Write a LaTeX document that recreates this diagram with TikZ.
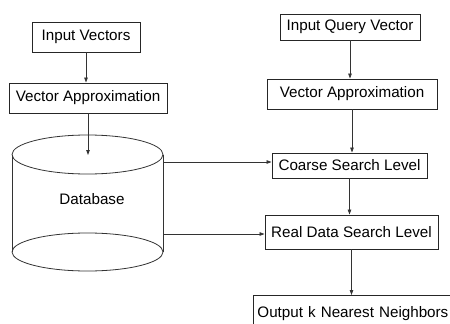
\documentclass[tikz,border=0pt]{standalone}
\usepackage{fontspec}
\setmainfont{Liberation Sans}
\usetikzlibrary{arrows.meta}
\begin{document}
\begin{tikzpicture}[x=1pt,y=-1pt,
  every node/.style={font=\fontsize{15.2}{18}\selectfont, text=black},
  boxnode/.style={draw=black!85, line width=0.9pt, inner sep=0pt, align=center},
  conn/.style={draw=black!80, line width=0.8pt, -{Triangle[length=5pt,width=3.5pt]}},
  shapeline/.style={draw=black!80, line width=0.8pt}]
\useasboundingbox (0,0) rectangle (450,324);
% left column
\node[boxnode, minimum width=108pt, minimum height=30pt] (iv) at (86,37) {Input Vectors};
\node[boxnode, minimum width=158pt, minimum height=30pt] (va1) at (88,98) {Vector Approximation};
% database cylinder
\draw[shapeline] (12,154.5) -- (12,252);
\draw[shapeline] (163,154.5) -- (163,252);
\draw[shapeline] (87.5,154.5) ellipse [x radius=75.5, y radius=19.5];
\draw[shapeline] (87.5,252) ellipse [x radius=75.5, y radius=19];
\node (db) at (92,199) {Database};
\coordinate (dbtop) at (87.5,155);
\coordinate (dbr1) at (163,162);
\coordinate (dbr2) at (163,234);
% right column
\node[boxnode, minimum width=140pt, minimum height=26pt] (iqv) at (350,27) {Input Query Vector};
\node[boxnode, minimum width=170pt, minimum height=30pt] (va2) at (352,94) {Vector Approximation};
\node[boxnode, minimum width=155pt, minimum height=25pt] (cs) at (349.5,165.5) {Coarse Search Level};
\node[boxnode, minimum width=173pt, minimum height=34pt] (rd) at (351.5,232) {Real Data Search Level};
\node[boxnode, minimum width=205pt, minimum height=36pt, anchor=north west, inner xsep=4pt, align=left, text width=197pt] (out) at (253,295) {Output k Nearest Neighbors};
% connectors
\draw[conn] (iv.south) -- (iv.south |- va1.north);
\draw[conn] (va1.south) -- (va1.south |- dbtop);
\draw[conn] (iqv.south) -- (iqv.south |- va2.north);
\draw[conn] (va2.south) -- (va2.south |- cs.north);
\draw[conn] (cs.south) -- (cs.south |- rd.north);
\draw[conn] (rd.south) -- (rd.south |- out.north);
\draw[conn] (dbr1) -- (dbr1 -| cs.west);
\draw[conn] (dbr2) -- (dbr2 -| rd.west);
\end{tikzpicture}
\end{document}
